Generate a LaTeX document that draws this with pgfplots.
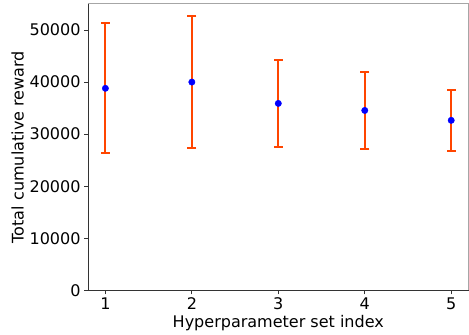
\documentclass[border=0pt]{standalone}
\usepackage{fontspec}
\setmainfont{DejaVu Sans}
\usepackage{pgfplots}
\pgfplotsset{compat=1.18}
\definecolor{orred}{HTML}{FF4500}
\definecolor{spine}{HTML}{333333}
\begin{document}
\begin{tikzpicture}
\begin{axis}[
  scale only axis,
  width=380pt, height=286pt,
  xmin=0.8, xmax=5.2, ymin=0, ymax=55000,
  axis x line*=bottom, axis y line*=left,
  axis line style={draw=spine, line width=0.8pt},
  xtick={1,2,3,4,5},
  ytick={0,10000,20000,30000,40000,50000},
  scaled y ticks=false,
  /pgf/number format/assume math mode=true,
  yticklabel={\pgfmathprintnumber[fixed,1000 sep={}]{\tick}},
  tick align=outside,
  major tick length=4pt,
  tick style={draw=spine, line width=0.8pt},
  every tick label/.append style={font=\fontsize{16}{19}\selectfont},
  xlabel={Hyperparameter set index},
  ylabel={Total cumulative reward},
  label style={font=\fontsize{16}{19}\selectfont},
  xlabel style={yshift=1pt},
  ylabel style={yshift=-1pt},
  clip=false,
  unbounded coords=jump,
]
% error bars: mean +/- error
\addplot[draw=orred, line width=2pt, mark=-, mark size=4.5pt,
  mark options={draw=orred, line width=2pt, solid}]
  table[x=x, y=y] {
x y
1 26300
1 51300
nan nan
2 27300
2 52700
nan nan
3 27500
3 44300
nan nan
4 27150
4 41950
nan nan
5 26820
5 38480
};
\addplot[only marks, mark=*, mark size=3.2pt, color=blue, fill=blue]
  table[x=x, y=y] {
x y
1 38800
2 40000
3 35900
4 34550
5 32650
};
\draw[draw=gray!70, line width=1pt] (rel axis cs:0,1) -- (rel axis cs:1,1) -- (rel axis cs:1,0);
\path (rel axis cs:0,1) ++(0,4pt);
\end{axis}
\path ([xshift=-8pt]current bounding box.south west);
\end{tikzpicture}
\end{document}
